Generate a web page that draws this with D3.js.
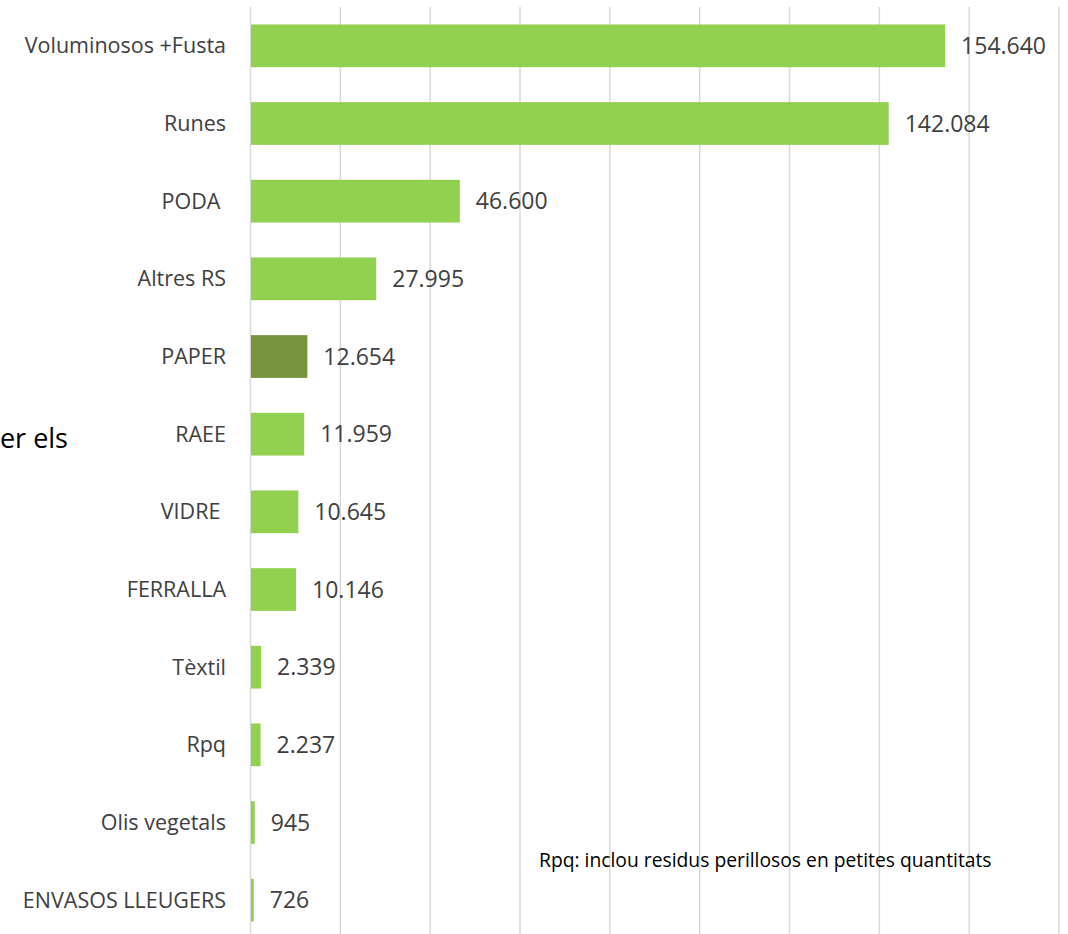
<!DOCTYPE html>
<html><head><meta charset="utf-8">
<script src="https://cdn.jsdelivr.net/npm/d3@7"></script>
<style>
html,body{margin:0;padding:0;background:#fff;}
svg{display:block;}
text{font-family:"Open Sans",sans-serif;}
</style></head>
<body>
<svg id="chart" width="1068" height="934"></svg>
<script>
const categories = ["Voluminosos +Fusta","Runes","PODA ","Altres RS","PAPER","RAEE","VIDRE ","FERRALLA","Tèxtil","Rpq","Olis vegetals","ENVASOS LLEUGERS"];
const values = [154640,142084,46600,27995,12654,11959,10645,10146,2339,2237,945,726];
const valueLabels = ["154.640","142.084","46.600","27.995","12.654","11.959","10.645","10.146","2.339","2.237","945","726"];
const highlighted = ["PAPER"];
const gridTicks = [0,20000,40000,60000,80000,100000,120000,140000,160000,180000];
const footnote = "Rpq: inclou residus perillosos en petites quantitats";
const sideText = "er els";

const svg = d3.select("#chart");
const x = d3.scaleLinear().domain([0,180000]).range([250.5,1059]);
const y = d3.scaleBand().domain(categories).range([7,939]).paddingInner(0.45).paddingOuter(0.225);

// gridlines
svg.append("g").selectAll("line").data(gridTicks).join("line")
  .attr("x1", d=>x(d)).attr("x2", d=>x(d))
  .attr("y1", 7).attr("y2", 934)
  .attr("stroke", "#d9d9d9").attr("stroke-width", 1.5);

// bars
svg.append("g").selectAll("rect").data(categories).join("rect")
  .attr("x", x(0)+0.5)
  .attr("y", d=>y(d))
  .attr("width", (d,i)=>x(values[i])-x(0)-0.5)
  .attr("height", y.bandwidth())
  .attr("fill", d=>highlighted.includes(d) ? "#77933C" : "#92D050");

// category labels
svg.append("g").selectAll("text").data(categories).join("text")
  .attr("x", 226)
  .attr("y", d=>y(d)+y.bandwidth()/2)
  .attr("dy", "0.35em")
  .attr("text-anchor", "end")
  .style("white-space", "pre")
  .attr("font-size", 21.5)
  .attr("fill", "#404040")
  .text(d=>d);

// value labels
svg.append("g").selectAll("text").data(categories).join("text")
  .attr("x", (d,i)=>x(values[i])+16)
  .attr("y", d=>y(d)+y.bandwidth()/2)
  .attr("dy", "0.35em")
  .attr("font-size", 23)
  .attr("fill", "#404040")
  .text((d,i)=>valueLabels[i]);

// footnote
svg.append("text").attr("x", 539).attr("y", 867)
  .attr("font-size", 19.3).attr("fill", "#000").text(footnote);

// side text (partially visible in the reference)
svg.append("text").attr("x", 68).attr("y", 448)
  .attr("text-anchor", "end")
  .attr("font-size", 27).attr("fill", "#000").text(sideText);
</script>
</body></html>
